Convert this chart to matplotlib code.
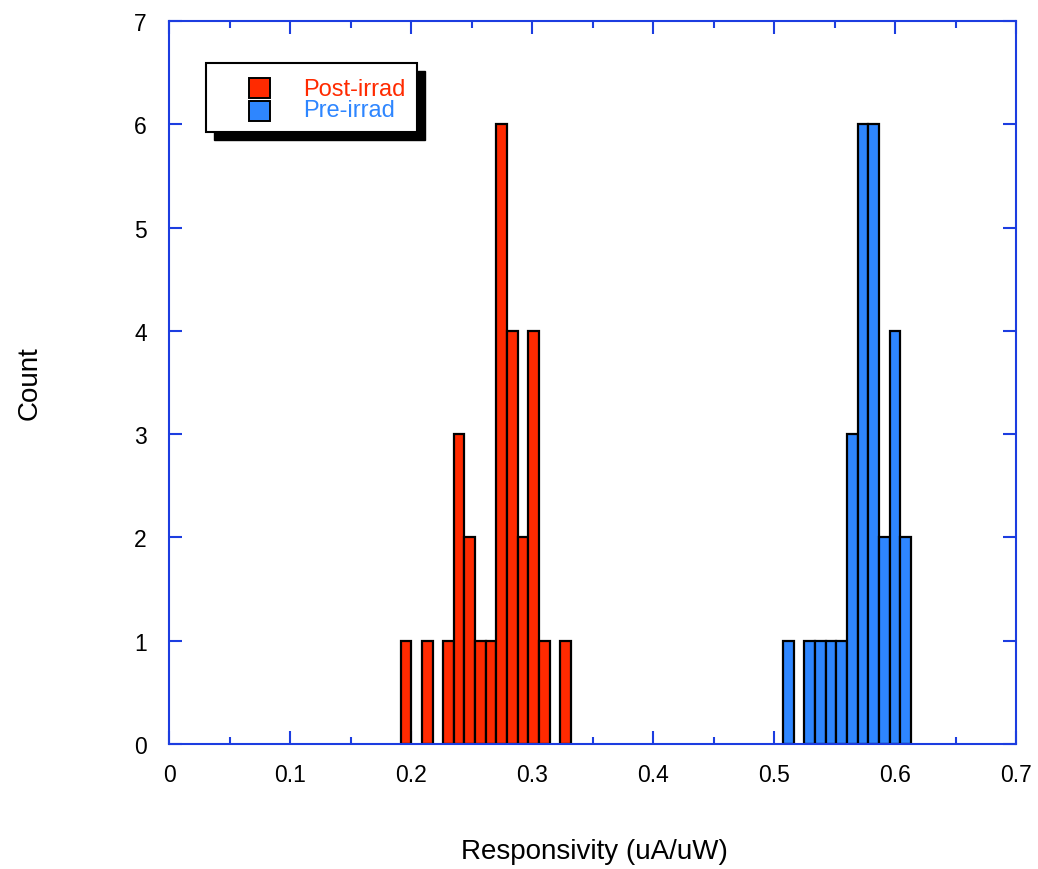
import matplotlib
matplotlib.use('Agg')
import matplotlib.pyplot as plt
from matplotlib.patches import Rectangle
from matplotlib.ticker import MultipleLocator

plt.rcParams['font.family'] = ['Liberation Sans', 'DejaVu Sans']

# histogram bins (left edge of each bin, count)
bin_width = 0.0088
post_left = [0.1914, 0.2090, 0.2266, 0.2354, 0.2442, 0.2530, 0.2618,
             0.2706, 0.2794, 0.2882, 0.2970, 0.3058, 0.3234]
post_count = [1, 1, 1, 3, 2, 1, 1, 6, 4, 2, 4, 1, 1]
pre_left = [0.5075, 0.5251, 0.5339, 0.5427, 0.5515, 0.5603, 0.5691,
            0.5779, 0.5867, 0.5955, 0.6043]
pre_count = [1, 1, 1, 1, 1, 3, 6, 6, 2, 4, 2]

series = ['Post-irrad', 'Pre-irrad']
colors = ['#ff2a00', '#2e86ff']
xtick_labels = ['0', '0.1', '0.2', '0.3', '0.4', '0.5', '0.6', '0.7']
axis_blue = '#1c3de0'

fig = plt.figure(figsize=(10.38, 8.70), dpi=100)
ax = fig.add_axes([169 / 1038, 125 / 870, 847 / 1038, 723 / 870])

ax.bar(post_left, post_count, width=bin_width, align='edge',
       color=colors[0], edgecolor='black', linewidth=1.6, zorder=2)
ax.bar(pre_left, pre_count, width=bin_width, align='edge',
       color=colors[1], edgecolor='black', linewidth=1.6, zorder=2)

ax.set_xlim(0, 0.7)
ax.set_ylim(0, 7)
ax.set_xticks([0, 0.1, 0.2, 0.3, 0.4, 0.5, 0.6, 0.7])
ax.set_xticklabels(xtick_labels)
ax.xaxis.set_minor_locator(MultipleLocator(0.05))
ax.yaxis.set_major_locator(MultipleLocator(1))

for s in ax.spines.values():
    s.set_color(axis_blue)
    s.set_linewidth(1.5)
    s.set_zorder(3)
ax.tick_params(which='both', direction='in', top=True, right=True,
               color=axis_blue, width=1.5, labelsize=16.5)
ax.tick_params(which='major', length=9.5)
ax.tick_params(which='minor', length=5)
ax.tick_params(axis='x', pad=14)
ax.tick_params(axis='y', pad=16)

fig.text(594 / 1038, 1 - 852 / 870, 'Responsivity (uA/uW)', fontsize=20,
         ha='center', va='center')
fig.text(30 / 1038, 1 - 383 / 870, 'Count', fontsize=20, rotation=90,
         ha='center', va='center')

# legend box with a hard black drop shadow
tr = ax.transAxes
bx, by, bw, bh = 0.0437, 0.8465, 0.2491, 0.0954
ax.add_patch(Rectangle((bx + 0.0094, by - 0.0111), bw, bh, transform=tr,
                       facecolor='black', edgecolor='black', zorder=4,
                       clip_on=False))
ax.add_patch(Rectangle((bx, by), bw, bh, transform=tr, facecolor='white',
                       edgecolor='black', linewidth=1.5, zorder=5,
                       clip_on=False))
sw_y = [0.8935, 0.8617]
txt_y = [0.9060, 0.8770]
for i in range(2):
    ax.add_patch(Rectangle((0.0945, sw_y[i]), 0.0248, 0.0280, transform=tr,
                           facecolor=colors[i], edgecolor='black',
                           linewidth=1.4, zorder=6))
    ax.text(0.1582, txt_y[i], series[i], transform=tr, color=colors[i],
            fontsize=17, ha='left', va='center', zorder=6)

fig.savefig('out.png', dpi=100)
